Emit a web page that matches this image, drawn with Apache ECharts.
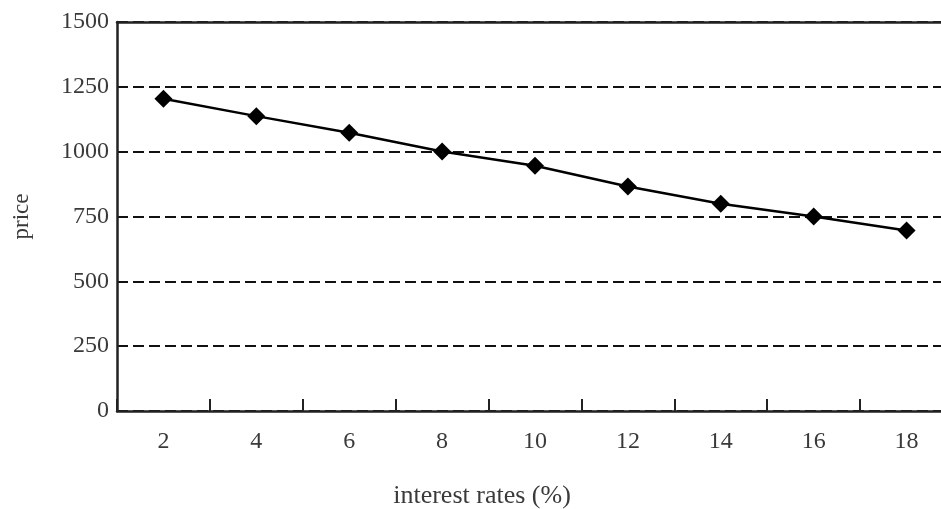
<!DOCTYPE html>
<html>
<head>
<meta charset="utf-8">
<script src="https://cdn.jsdelivr.net/npm/echarts@6/dist/echarts.min.js"></script>
<style>html,body{margin:0;padding:0;background:#fff;}#c{width:941px;height:509px;}</style>
</head>
<body>
<div id="c"></div>
<script>
const categories = ['2', '4', '6', '8', '10', '12', '14', '16', '18'];
const priceValues = [1204, 1137, 1073, 1001, 946, 866, 799, 750, 696];
const yTicks = [0, 250, 500, 750, 1000, 1250, 1500];

const FONT = '"Liberation Serif", "DejaVu Serif", serif';
const chart = echarts.init(document.getElementById('c'));
chart.setOption({
  animation: false,
  backgroundColor: '#fff',
  grid: { left: 117, width: 836, top: 22, bottom: 98, containLabel: false, outerBoundsMode: 'none' },
  xAxis: [{
    type: 'category',
    data: categories,
    boundaryGap: true,
    name: 'interest rates (%)',
    nameLocation: 'middle',
    nameGap: 72,
    nameTextStyle: { fontFamily: FONT, fontSize: 26, color: '#3a3a3a', padding: [0, 106, 0, 0] },
    axisLine: { show: true, lineStyle: { color: '#222', width: 2.5 } },
    axisTick: { show: true, inside: true, length: 12, lineStyle: { color: '#222', width: 2 } },
    axisLabel: { fontFamily: FONT, fontSize: 24, color: '#3a3a3a', margin: 19 },
    splitLine: { show: false }
  }, {
    type: 'category',
    position: 'top',
    data: categories,
    axisLine: { show: true, lineStyle: { color: '#222', width: 2.5 } },
    axisTick: { show: false },
    axisLabel: { show: false },
    splitLine: { show: false }
  }],
  yAxis: {
    type: 'value',
    min: yTicks[0],
    max: yTicks[yTicks.length - 1],
    interval: 250,
    name: 'price',
    nameLocation: 'middle',
    nameGap: 84,
    nameTextStyle: { fontFamily: FONT, fontSize: 23, color: '#3a3a3a' },
    axisLine: { show: true, lineStyle: { color: '#222', width: 2.5 } },
    axisTick: { show: false },
    axisLabel: { fontFamily: FONT, fontSize: 24, color: '#3a3a3a', margin: 8, formatter: function (v) { return String(v); } },
    splitLine: { show: true, lineStyle: { color: '#111', width: 2, type: [11, 5] } }
  },
  series: [{
    type: 'line',
    data: priceValues,
    xAxisIndex: 0,
    symbol: 'diamond',
    symbolSize: 18,
    itemStyle: { color: '#000' },
    lineStyle: { color: '#000', width: 2.5 }
  }]
});
</script>
</body>
</html>
